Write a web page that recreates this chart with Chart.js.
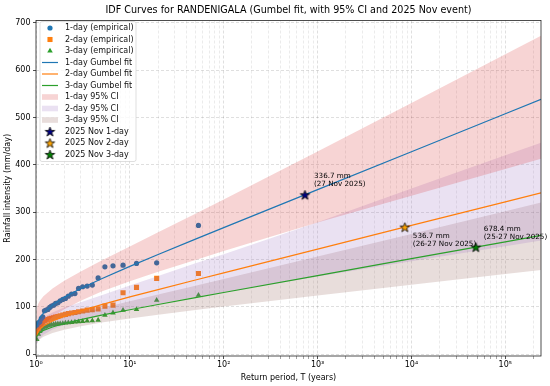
<!DOCTYPE html>
<html>
<head>
<meta charset="utf-8">
<title>IDF Curves - RANDENIGALA</title>
<script src="https://cdn.jsdelivr.net/npm/chart.js@4.4.1/dist/chart.umd.min.js"></script>
<style>
  html, body { margin: 0; padding: 0; background: #fff; }
</style>
</head>
<body>
<canvas id="idf" width="550" height="386"></canvas>
<script>
// ranked annual maxima, largest first, with their plotting-position return periods (years)
const empT = [53.8, 19.3, 11.77, 8.46, 6.61, 5.42, 4.59, 3.98, 3.51, 3.14, 2.84, 2.60, 2.39, 2.21, 2.06,
              1.93, 1.81, 1.71, 1.62, 1.54, 1.46, 1.40, 1.34, 1.28, 1.23, 1.18, 1.14, 1.10, 1.06, 1.02];
const emp1day = [272, 193, 191.6, 188, 186.6, 184.5, 161, 145.8, 143.7, 142.3, 138.8, 128, 126.8, 122.5, 117.6,
                 115.5, 112.7, 108.5, 107, 103.5, 101.4, 98.6, 94.5, 93, 91.5, 78.9, 75.4, 68.3, 66, 61.3];
const emp2day = [170.5, 160, 141, 129.5, 103.5, 101.4, 95.5, 94, 93, 91, 89.5, 88, 87, 85.5, 84,
                 82.5, 81, 79.5, 78.5, 77, 75.5, 74.5, 73, 71.5, 70, 68, 65, 61, 55, 47];
const emp3day = [124.7, 114, 94.4, 93, 87.3, 82.4, 72, 70.5, 70, 69, 68.5, 68, 67, 66.5, 66,
                 65, 64.5, 64, 63.5, 63, 62, 61, 60, 58, 57, 55, 52, 48, 42, 31];

// Gumbel fit curves and 95% CI bounds, read at these return periods
const fitT   = [1.01, 1.05, 1.1, 1.2, 1.5, 2, 3, 5, 10, 20, 50, 100, 1000, 1e4, 1e5, 2.4e5];
const fit1   = [53.9, 68.4, 76.7, 86.8, 103.8, 119.9, 138.5, 159.3, 185.4, 210.5, 242.9, 267.2, 347.5, 427.6, 507.8, 538.2];
const ci1Up  = [92.4, 105.3, 112.9, 122.3, 138.8, 155.1, 174.8, 197.7, 227.6, 257.4, 296.8, 326.8, 428.0, 530.4, 633.7, 672.9];
const ci1Lo  = [24.7, 41.1, 50.2, 61.1, 78.8, 94.6, 113, 132.5, 154, 174, 199, 218, 278, 334.5, 391.1, 413.0];
const fit2   = [38.8, 47.8, 53.0, 59.3, 70.0, 80.0, 91.6, 104.6, 120.8, 136.4, 156.7, 171.8, 221.9, 271.9, 321.8, 340.8];
const ci2Up  = [60.9, 68.1, 72.4, 78.0, 88.0, 98.3, 109.5, 124.5, 145, 165, 192, 211, 278.5, 350, 420.2, 446.4];
const ci2Lo  = [17.0, 27.7, 33.7, 40.7, 52.0, 61.8, 72.2, 83.0, 95.3, 106.6, 120.7, 130.8, 163.8, 196.1, 228.0, 240.1];
const fit3   = [35.2, 41.6, 45.4, 49.9, 57.4, 64.6, 72.9, 82.2, 93.8, 104.9, 119.4, 130.2, 166.0, 201.7, 237.3, 250.9];
const ci3Up  = [50.7, 56.0, 59.3, 63.3, 70.4, 77.8, 86.8, 97.6, 111.7, 125.8, 144.5, 158.6, 206.1, 254.0, 301.9, 320.3];
const ci3Lo  = [19.5, 27.1, 31.4, 36.5, 44.4, 51.4, 58.9, 66.6, 75.4, 83.3, 93.3, 100.5, 123.9, 146.7, 169.3, 177.9];

// November 2025 event (intensity in mm/day) and its return period on each fit
const eventT = [734, 8500, 48500];
const eventVal = [336.7, 268.35, 226.13];
const eventText = [['336.7 mm', '(27 Nov 2025)'], ['536.7 mm', '(26-27 Nov 2025)'], ['678.4 mm', '(25-27 Nov 2025)']];

const yTicks = [0, 100, 200, 300, 400, 500, 600, 700];
const xMajor = [1, 10, 100, 1000, 10000, 100000];
const xMajorLabels = ['10⁰', '10¹', '10²', '10³', '10⁴', '10⁵'];

const TITLE = 'IDF Curves for RANDENIGALA (Gumbel fit, with 95% CI and 2025 Nov event)';
const X_MIN = 1, X_MAX = 2.4e5, Y_MIN = -4, Y_MAX = 705;
const FONT = "'DejaVu Sans', sans-serif";
const C0 = '#1f77b4', C1 = '#ff7f0e', C2 = '#2ca02c';
const noteOffset = [[9, -18.3], [8, 9.4], [8, -18.3]];

const pts = (xs, ys) => xs.map((x, i) => ({ x: x, y: ys[i] }));

function star(fill, r) {
  const s = Math.ceil(2 * r + 3);
  const c = document.createElement('canvas');
  c.width = s; c.height = s;
  const g = c.getContext('2d');
  g.beginPath();
  for (let i = 0; i < 10; i++) {
    const rr = i % 2 ? r * 0.4 : r;
    const ang = -Math.PI / 2 + i * Math.PI / 5;
    g.lineTo(s / 2 + rr * Math.cos(ang), s / 2 + 0.5 + rr * Math.sin(ang));
  }
  g.closePath();
  g.fillStyle = fill; g.fill();
  g.lineWidth = 0.8; g.strokeStyle = '#000'; g.stroke();
  return c;
}

const empSet = (label, ys, color, style, radius) => ({
  label, data: pts(empT, ys), showLine: false, order: 4,
  pointStyle: style, pointRadius: radius, pointBackgroundColor: color, pointBorderWidth: 0,
  lg: { kind: 'marker', style, color, radius }
});
const fitSet = (label, ys, color) => ({
  label, data: pts(fitT, ys), order: 2, borderColor: color, borderWidth: 1.2, pointRadius: 0,
  lg: { kind: 'line', color }
});
const bandSets = (label, up, lo, color) => [
  { label, data: pts(fitT, up), order: 3, fill: '+1', backgroundColor: color,
    borderColor: 'transparent', borderWidth: 0, pointRadius: 0, lg: { kind: 'patch', color } },
  { data: pts(fitT, lo), order: 3, fill: false, borderColor: 'transparent', borderWidth: 0, pointRadius: 0 }
];
const starSet = (label, i, img) => ({
  label, data: [{ x: eventT[i], y: eventVal[i] }], showLine: false, order: 1,
  pointStyle: img, pointRadius: 5, lg: { kind: 'star', img }
});

const datasets = [
  empSet('1-day (empirical)', emp1day, C0, 'circle', 2.6),
  empSet('2-day (empirical)', emp2day, C1, 'rect', 3.6),
  empSet('3-day (empirical)', emp3day, C2, 'triangle', 3.2),
  fitSet('1-day Gumbel fit', fit1, C0),
  fitSet('2-day Gumbel fit', fit2, C1),
  fitSet('3-day Gumbel fit', fit3, C2),
  ...bandSets('1-day 95% CI', ci1Up, ci1Lo, 'rgba(214,39,40,0.2)'),
  ...bandSets('2-day 95% CI', ci2Up, ci2Lo, 'rgba(148,103,189,0.2)'),
  ...bandSets('3-day 95% CI', ci3Up, ci3Lo, 'rgba(140,86,75,0.2)'),
  starSet('2025 Nov 1-day', 0, star('navy', 5)),
  starSet('2025 Nov 2-day', 1, star('orange', 5)),
  starSet('2025 Nov 3-day', 2, star('green', 5))
];

// log-axis grid: every 1..9 x 10^k inside the range
const xGrid = [];
for (let e = 0; e <= 5; e++) {
  for (let k = 1; k <= 9; k++) {
    const v = k * Math.pow(10, e);
    if (v <= X_MAX) xGrid.push({ value: v, major: k === 1 });
  }
}
const xLabel = v => { const i = xMajor.indexOf(v); return i < 0 ? '' : xMajorLabels[i]; };

function drawMark(ctx, style, x, y, r, color) {
  ctx.fillStyle = color;
  ctx.beginPath();
  if (style === 'circle') ctx.arc(x, y, r, 0, Math.PI * 2);
  else if (style === 'rect') { const h = r / Math.SQRT2; ctx.rect(x - h, y - h, 2 * h, 2 * h); }
  else {
    ctx.moveTo(x, y - r);
    ctx.lineTo(x + r * Math.sin(2 * Math.PI / 3), y - r * Math.cos(2 * Math.PI / 3));
    ctx.lineTo(x + r * Math.sin(4 * Math.PI / 3), y - r * Math.cos(4 * Math.PI / 3));
    ctx.closePath();
  }
  ctx.fill();
}

const frameNotes = {
  id: 'frameNotes',
  afterDatasetsDraw(chart) {
    const { ctx, chartArea: a, scales: { x, y } } = chart;
    ctx.save();
    ctx.font = `7.2px ${FONT}`;
    ctx.fillStyle = '#000';
    ctx.textAlign = 'left';
    ctx.textBaseline = 'middle';
    eventT.forEach((t, i) => {
      const px = x.getPixelForValue(t), py = y.getPixelForValue(eventVal[i]);
      eventText[i].forEach((line, j) => ctx.fillText(line, px + noteOffset[i][0], py + noteOffset[i][1] + j * 8));
    });
    ctx.strokeStyle = '#222';
    ctx.lineWidth = 0.8;
    ctx.strokeRect(a.left, a.top, a.right - a.left, a.bottom - a.top);
    ctx.restore();
  }
};

const boxLegend = {
  id: 'boxLegend',
  afterDraw(chart) {
    const { ctx, chartArea: a } = chart;
    const items = chart.data.datasets.filter(d => d.lg);
    const x0 = a.left + 4, y0 = a.top + 1, w = 96, row = 11.5;
    const h = 13.5 + row * (items.length - 1);
    ctx.save();
    ctx.beginPath();
    ctx.roundRect(x0, y0, w, h, 2);
    ctx.fillStyle = 'rgba(255,255,255,0.8)';
    ctx.fill();
    ctx.strokeStyle = 'rgba(204,204,204,0.8)';
    ctx.lineWidth = 0.8;
    ctx.stroke();
    items.forEach((d, i) => {
      const cy = y0 + 6.5 + i * row, cx = x0 + 10, g = d.lg;
      if (g.kind === 'marker') drawMark(ctx, g.style, cx, cy, g.radius, g.color);
      else if (g.kind === 'line') {
        ctx.strokeStyle = g.color; ctx.lineWidth = 1.2;
        ctx.beginPath(); ctx.moveTo(x0 + 2, cy); ctx.lineTo(x0 + 18, cy); ctx.stroke();
      } else if (g.kind === 'patch') {
        ctx.fillStyle = g.color; ctx.fillRect(x0 + 2, cy - 2.8, 16, 5.6);
      } else if (g.kind === 'star') {
        ctx.drawImage(g.img, cx - g.img.width / 2, cy - g.img.height / 2);
      }
      ctx.fillStyle = '#111';
      ctx.font = `8px ${FONT}`;
      ctx.textAlign = 'left';
      ctx.textBaseline = 'middle';
      ctx.fillText(d.label, x0 + 25, cy);
    });
    ctx.font = `9.6px ${FONT}`;
    ctx.fillStyle = '#000';
    ctx.textAlign = 'center';
    ctx.fillText(TITLE, (a.left + a.right) / 2, 10.5);
    ctx.restore();
  }
};

new Chart(document.getElementById('idf'), {
  type: 'line',
  data: { datasets },
  options: {
    responsive: false,
    animation: false,
    devicePixelRatio: 1,
    layout: { padding: { top: 20.5, right: 9, bottom: 0, left: 0 } },
    elements: { line: { tension: 0 } },
    plugins: { legend: { display: false }, tooltip: { enabled: false } },
    scales: {
      x: {
        type: 'logarithmic', min: X_MIN, max: X_MAX,
        afterBuildTicks: s => { s.ticks = xGrid.map(t => ({ value: t.value, major: t.major })); },
        afterFit: s => { s.height = 30; },
        ticks: { autoSkip: false, maxRotation: 0, padding: 1, color: '#000',
                 font: { family: FONT, size: 8 }, callback: v => xLabel(v) },
        grid: {
          color: c => (c.tick && c.tick.major) ? 'rgba(0,0,0,0.16)' : 'rgba(0,0,0,0.10)',
          lineWidth: 0.8, tickLength: 3, tickBorderDash: [],
          tickColor: c => (c.tick && c.tick.major) ? '#222' : 'rgba(0,0,0,0.45)'
        },
        border: { display: false, dash: [3, 2] },
        title: { display: true, text: 'Return period, T (years)', color: '#000',
                 font: { family: FONT, size: 8 }, padding: { top: 0, bottom: 3.2 } }
      },
      y: {
        min: Y_MIN, max: Y_MAX,
        afterBuildTicks: s => { s.ticks = yTicks.map(v => ({ value: v })); },
        afterFit: s => { s.width = 36; },
        ticks: { padding: 2.5, color: '#000', font: { family: FONT, size: 8 } },
        grid: { color: 'rgba(0,0,0,0.16)', lineWidth: 0.8, tickLength: 3, tickBorderDash: [], tickColor: '#222' },
        border: { display: false, dash: [3, 2] },
        title: { display: true, text: 'Rainfall intensity (mm/day)', color: '#000',
                 font: { family: FONT, size: 8 }, padding: { top: 3.2, bottom: 0 } }
      }
    }
  },
  plugins: [frameNotes, boxLegend]
});
</script>
</body>
</html>
